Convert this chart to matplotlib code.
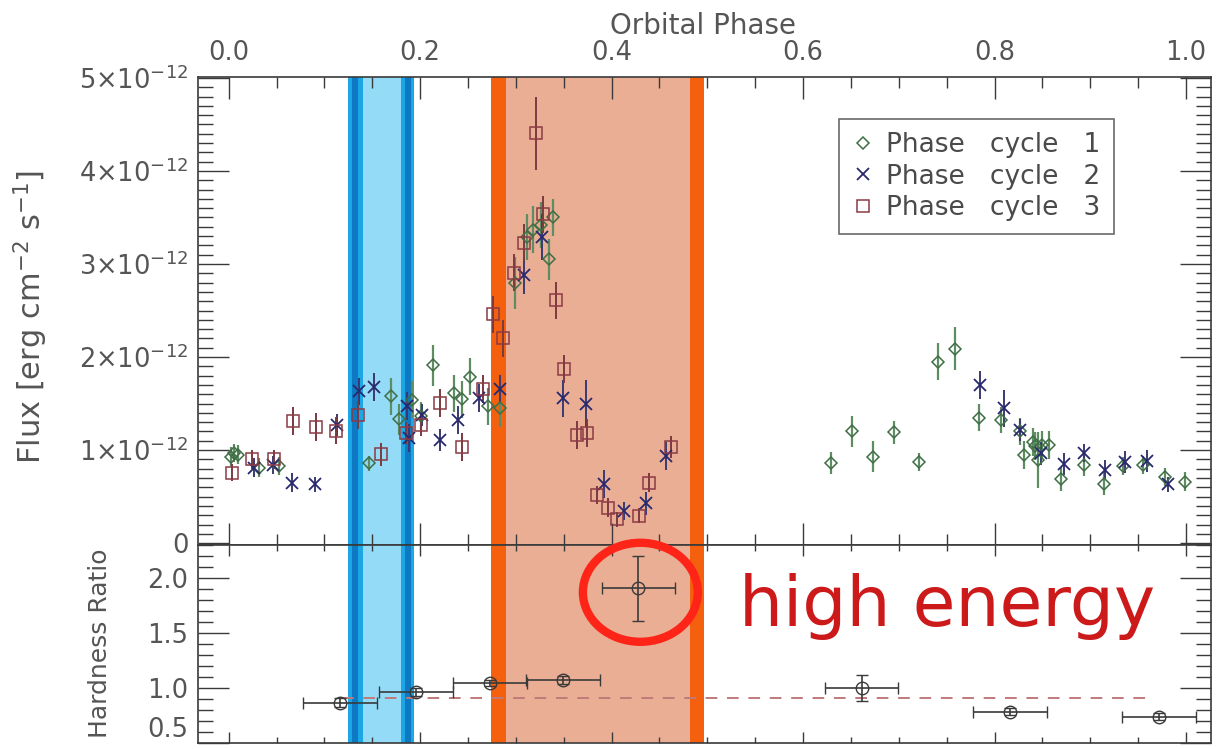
import numpy as np
import matplotlib.pyplot as plt
from matplotlib.patches import Ellipse
from matplotlib.ticker import FixedLocator, MultipleLocator

plt.rcParams['font.family'] = ['DejaVu Sans']
plt.rcParams['mathtext.fontset'] = 'dejavusans'

# flux per phase cycle, in units of 1e-12 erg cm^-2 s^-1
phase_c1 = [0.002, 0.006, 0.010, 0.032, 0.053, 0.147, 0.170, 0.178, 0.192, 0.2007,
            0.213, 0.235, 0.2435, 0.252, 0.271, 0.2835, 0.299, 0.312, 0.3177, 0.326,
            0.3386, 0.335, 0.629, 0.651, 0.673, 0.695, 0.721, 0.741, 0.759, 0.784,
            0.807, 0.827, 0.831, 0.840, 0.842, 0.845, 0.850, 0.857, 0.869, 0.893,
            0.914, 0.934, 0.955, 0.978, 0.999]
flux_c1 = [0.93, 0.97, 0.95, 0.81, 0.83, 0.86, 1.58, 1.33, 1.54, 1.37,
           1.91, 1.61, 1.545, 1.79, 1.47, 1.45, 2.80, 3.29, 3.37, 3.42,
           3.50, 3.05, 0.86, 1.20, 0.93, 1.19, 0.87, 1.95, 2.09, 1.35,
           1.32, 1.20, 0.95, 1.09, 1.04, 0.89, 1.05, 1.05, 0.69, 0.84,
           0.64, 0.83, 0.84, 0.71, 0.66]
err_c1 = [0.1, 0.1, 0.1, 0.1, 0.1, 0.08, 0.2, 0.17, 0.2, 0.15,
          0.22, 0.2, 0.2, 0.2, 0.2, 0.2, 0.28, 0.25, 0.25, 0.25,
          0.2, 0.22, 0.12, 0.17, 0.17, 0.12, 0.1, 0.2, 0.23, 0.14,
          0.14, 0.15, 0.15, 0.15, 0.15, 0.3, 0.15, 0.15, 0.13, 0.12,
          0.12, 0.1, 0.1, 0.1, 0.1]

phase_c2 = [0.026, 0.046, 0.066, 0.0897, 0.113, 0.1366, 0.152, 0.186, 0.188, 0.2018,
            0.221, 0.240, 0.262, 0.2835, 0.308, 0.327, 0.3497, 0.373, 0.3925, 0.413,
            0.436, 0.457, 0.785, 0.810, 0.8266, 0.8486, 0.8726, 0.893, 0.915, 0.936,
            0.959, 0.981]
flux_c2 = [0.81, 0.84, 0.65, 0.63, 1.27, 1.63, 1.68, 1.47, 1.125, 1.376,
           1.11, 1.32, 1.556, 1.66, 2.88, 3.29, 1.556, 1.50, 0.64, 0.347,
           0.427, 0.935, 1.70, 1.448, 1.215, 0.964, 0.85, 0.97, 0.79, 0.874,
           0.885, 0.63]
err_c2 = [0.1, 0.1, 0.1, 0.08, 0.12, 0.15, 0.15, 0.15, 0.15, 0.12,
          0.12, 0.15, 0.15, 0.15, 0.2, 0.25, 0.2, 0.25, 0.15, 0.1,
          0.12, 0.15, 0.15, 0.2, 0.12, 0.12, 0.12, 0.1, 0.1, 0.12,
          0.12, 0.08]

phase_c3 = [0.003, 0.024, 0.047, 0.0667, 0.091, 0.112, 0.1356, 0.159, 0.1854, 0.2005,
            0.221, 0.2435, 0.266, 0.2766, 0.2864, 0.298, 0.308, 0.321, 0.3288, 0.342,
            0.3504, 0.3636, 0.374, 0.385, 0.3967, 0.406, 0.429, 0.439, 0.462]
flux_c3 = [0.756, 0.90, 0.90, 1.315, 1.244, 1.21, 1.376, 0.954, 1.18, 1.27,
           1.51, 1.035, 1.66, 2.46, 2.20, 2.906, 3.23, 4.405, 3.534, 2.61,
           1.868, 1.16, 1.186, 0.516, 0.38, 0.255, 0.294, 0.65, 1.03]
err_c3 = [0.09, 0.1, 0.1, 0.15, 0.15, 0.15, 0.15, 0.12, 0.12, 0.12,
          0.15, 0.15, 0.15, 0.2, 0.2, 0.2, 0.2, 0.39, 0.2, 0.2,
          0.15, 0.15, 0.15, 0.1, 0.1, 0.08, 0.08, 0.1, 0.12]

# hardness ratio per phase bin
hr_phase = [0.116, 0.196, 0.273, 0.349, 0.428, 0.661, 0.816, 0.972]
hr_value = [0.865, 0.964, 1.045, 1.072, 1.906, 1.00, 0.785, 0.74]
hr_yerr = [0.04, 0.04, 0.03, 0.04, 0.295, 0.12, 0.03, 0.03]
hr_xerr = 0.0385
hr_mean = 0.91

flux_ticks = [0, 1, 2, 3, 4, 5]
flux_ticklabels = ['0'] + [r'%d$\times$10$^{-12}$' % v for v in flux_ticks[1:]]
hr_ticks = [0.5, 1.0, 1.5, 2.0]
phase_ticks = [0.0, 0.2, 0.4, 0.6, 0.8, 1.0]
cycle_labels = ['Phase   cycle   1', 'Phase   cycle   2', 'Phase   cycle   3']

blue_band = (0.125, 0.194)
orange_band = (0.274, 0.496)

gray = '#555555'
axcol = '#3a3a3a'

fig = plt.figure(figsize=(12.2, 7.49), dpi=100)
ax1 = fig.add_axes([0.1623, 0.2724, 0.8303, 0.6248])
ax2 = fig.add_axes([0.1623, 0.008, 0.8303, 0.2644])


def shade(ax):
    # blue window with darker borders
    ax.axvspan(*blue_band, color='#93dbf7', lw=0, zorder=0)
    ax.axvspan(0.125, 0.140, color='#1ba6e6', lw=0, zorder=0.5)
    ax.axvspan(0.180, 0.194, color='#1ba6e6', lw=0, zorder=0.5)
    ax.axvspan(0.129, 0.135, color='#0f78c2', lw=0, zorder=0.6)
    ax.axvspan(0.184, 0.190, color='#0f78c2', lw=0, zorder=0.6)
    # orange window
    ax.axvspan(*orange_band, color='#eaae95', lw=0, zorder=0)
    ax.axvspan(0.274, 0.290, color='#f5600f', lw=0, zorder=0.5)
    ax.axvspan(0.482, 0.496, color='#f5600f', lw=0, zorder=0.5)


for ax in (ax1, ax2):
    shade(ax)
    ax.set_xlim(-0.032, 1.026)
    ax.xaxis.set_major_locator(FixedLocator(phase_ticks))
    ax.xaxis.set_minor_locator(MultipleLocator(0.05))
    ax.yaxis.set_minor_locator(MultipleLocator(0.1))
    for s in ax.spines.values():
        s.set_color(axcol)
        s.set_linewidth(1.2)
    ax.tick_params(which='both', direction='in', top=True, right=True,
                   colors=axcol, width=1.0, labelcolor=gray, labelsize=18.5)

# upper panel: light curves
ax1.set_ylim(-0.02, 5.01)
ax1.yaxis.set_major_locator(FixedLocator(flux_ticks))
ax1.set_yticklabels(flux_ticklabels)
ax1.tick_params(axis='x', which='major', length=16, labeltop=True, labelbottom=False, pad=8)
ax1.tick_params(axis='x', which='minor', length=8)
ax1.tick_params(axis='y', which='major', length=22, pad=7)
ax1.tick_params(axis='y', which='minor', length=11)
ax1.set_xticklabels(['%.1f' % t for t in phase_ticks])

h1 = ax1.errorbar(phase_c1, flux_c1, yerr=err_c1, fmt='D', ms=6, mfc='none', mec='#3f6e45',
                  mew=1.1, ecolor='#5f8d63', elinewidth=1.6, capsize=0, zorder=3)
h2 = ax1.errorbar(phase_c2, flux_c2, yerr=err_c2, fmt='x', ms=8, mec='#28286e', mew=1.3,
                  ecolor='#3a3a70', elinewidth=1.4, capsize=0, zorder=3)
h3 = ax1.errorbar(phase_c3, flux_c3, yerr=err_c3, fmt='s', ms=8, mfc='none', mec='#8c3a44',
                  mew=1.1, ecolor='#7a3a40', elinewidth=1.4, capsize=0, zorder=3)

leg = ax1.legend([h1[0], h2[0], h3[0]], cycle_labels, loc='upper right',
                 bbox_to_anchor=(0.913, 0.841), bbox_transform=fig.transFigure,
                 fontsize=19, frameon=True, fancybox=False, borderpad=0.5,
                 labelspacing=0.2, handlelength=0.8, handletextpad=0.5, borderaxespad=0)
leg.get_frame().set_edgecolor('#444444')
leg.get_frame().set_linewidth(1.2)
for t in leg.get_texts():
    t.set_color('#4a4a4a')

# lower panel: hardness ratio
ax2.set_ylim(0.5, 2.3)
ax2.yaxis.set_major_locator(FixedLocator(hr_ticks))
ax2.set_yticklabels(['%.1f' % t for t in hr_ticks])
ax2.get_yticklabels()[0].set_verticalalignment('bottom')
ax2.tick_params(axis='x', which='major', length=8, labelbottom=False)
ax2.tick_params(axis='x', which='minor', length=4)
ax2.tick_params(axis='y', which='major', length=22, pad=7)
ax2.tick_params(axis='y', which='minor', length=11)

ax2.plot([0.1185, 0.959], [hr_mean, hr_mean], ls=(0, (6, 5)), color='#c07a7a', lw=1.4, zorder=2)
ax2.errorbar(hr_phase, hr_value, xerr=hr_xerr, yerr=hr_yerr, fmt='o', ms=9, mfc='none',
             mec='#3a3a3a', mew=1.0, ecolor='#3a3a3a', elinewidth=1.2, capsize=4,
             capthick=1.0, zorder=3)

ax2.add_patch(Ellipse((0.43, 1.87), 0.120, 0.90, fill=False, ec='#ff2418', lw=6,
                      clip_on=False, zorder=5))
ax2.text(0.75, 1.74, 'high energy', color='#cc1a1a', fontsize=50,
         ha='center', va='center', zorder=5)

fig.text(703 / 1220, 1 - 26 / 749, 'Orbital Phase', color=gray, fontsize=20,
         ha='center', va='center')
fig.text(31 / 1220, 1 - 317 / 749, r'Flux [erg cm$^{-2}$ s$^{-1}$]', color=gray,
         fontsize=22, rotation=90, ha='center', va='center')
fig.text(100 / 1220, 1 - 643 / 749, 'Hardness Ratio', color=gray, fontsize=18,
         rotation=90, ha='center', va='center')

fig.savefig('out.png', dpi=100)
